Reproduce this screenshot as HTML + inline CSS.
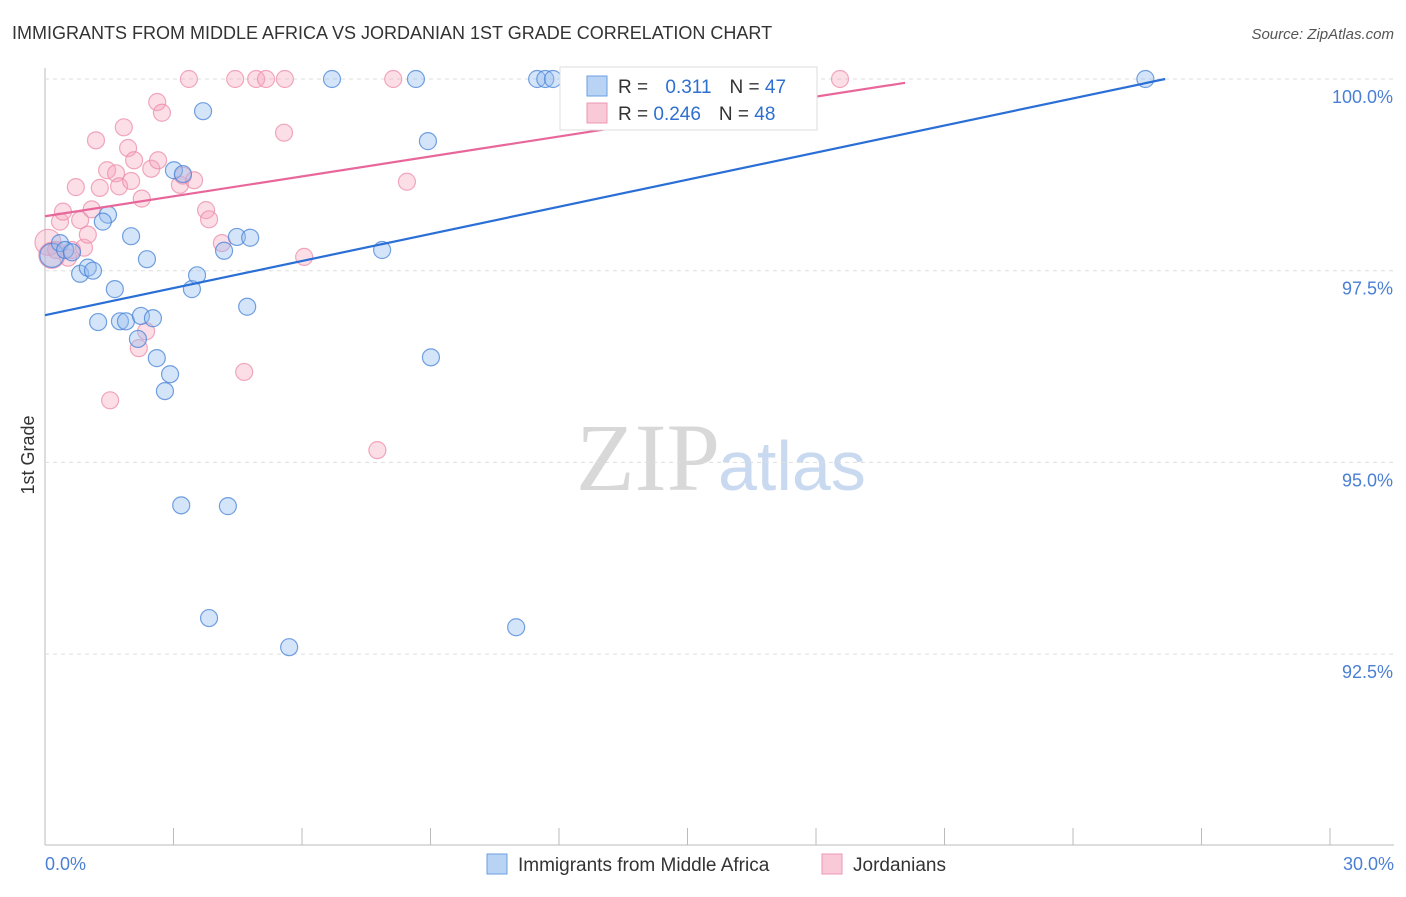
<!DOCTYPE html>
<html><head><meta charset="utf-8"><style>
body{margin:0;background:#fff;font-family:"Liberation Sans",sans-serif;}
</style></head><body>
<svg id="c" width="1406" height="892" xmlns="http://www.w3.org/2000/svg">
<text x="12" y="39" font-size="18" fill="#333">IMMIGRANTS FROM MIDDLE AFRICA VS JORDANIAN 1ST GRADE CORRELATION CHART</text>
<text x="1394" y="39" font-size="15" fill="#555" font-style="italic" text-anchor="end">Source: ZipAtlas.com</text>
<text x="720" y="490" font-size="96" fill="#d8d8d8" font-family="Liberation Serif,serif" text-anchor="end">ZIP</text>
<text x="718" y="490" font-size="70" fill="#c9d9ef">atlas</text>
<text x="34" y="455" font-size="18" fill="#333" text-anchor="middle" transform="rotate(-90 34 455)">1st Grade</text>
<g id="grid"></g><g id="pts"></g><g id="lines"></g>
<g>
<rect x="560" y="67" width="257" height="63" fill="#fff" stroke="#ddd"/>
<rect x="587" y="76" width="20" height="20" fill="#b8d3f4" stroke="#6a9fe0"/>
<rect x="587" y="103" width="20" height="20" fill="#f9c9d7" stroke="#ec98b2"/>
<text x="618" y="93" font-size="19" fill="#333">R = <tspan fill="#2f6fd0" dx="12">0.311</tspan><tspan dx="18" fill="#333">N = </tspan><tspan fill="#2f6fd0">47</tspan></text>
<text x="618" y="120" font-size="19" fill="#333">R = <tspan fill="#2f6fd0">0.246</tspan><tspan dx="18" fill="#333">N = </tspan><tspan fill="#2f6fd0">48</tspan></text>
</g>
<g>
<rect x="487" y="854" width="20" height="20" fill="#b8d3f4" stroke="#6a9fe0"/>
<text x="518" y="871" font-size="19" fill="#333">Immigrants from Middle Africa</text>
<rect x="822" y="854" width="20" height="20" fill="#f9c9d7" stroke="#ec98b2"/>
<text x="853" y="871" font-size="19" fill="#333">Jordanians</text>
</g>
</svg>
<script>
const blueX=[0.16,0.35,0.47,0.63,0.82,1.00,1.12,1.24,1.47,1.35,1.63,1.75,1.89,2.01,2.17,2.24,2.38,2.52,2.61,2.80,2.92,3.01,3.22,3.18,3.43,3.55,3.69,3.83,4.18,4.27,4.48,4.79,4.72,5.70,6.70,7.87,8.66,8.94,9.01,11.00,11.49,11.68,11.86,14.55,25.69];
const blueY=[97.70,97.86,97.77,97.74,97.46,97.54,97.50,96.83,98.23,98.14,97.26,96.84,96.84,97.95,96.61,96.91,97.65,96.88,96.36,95.93,96.15,98.81,98.76,94.44,97.26,97.44,99.58,92.97,97.76,94.43,97.94,97.93,97.03,92.59,100,97.77,100,99.19,96.37,92.85,100,100,100,100,100];
const pinkX=[0.07,0.16,0.26,0.35,0.42,0.54,0.63,0.72,0.82,0.91,1.00,1.09,1.19,1.28,1.45,1.52,1.66,1.73,1.84,1.94,2.01,2.08,2.19,2.26,2.36,2.48,2.62,2.64,2.73,3.15,3.22,3.36,3.48,3.76,3.83,4.13,4.44,4.65,4.93,5.16,5.58,5.60,6.05,7.76,8.13,8.45,18.56];
const pinkY=[97.87,97.70,97.77,98.14,98.27,97.67,97.77,98.59,98.16,97.80,97.97,98.30,99.20,98.58,98.81,95.81,98.77,98.60,99.37,99.10,98.67,98.94,96.49,98.44,96.71,98.83,99.70,98.94,99.56,98.62,98.74,100,98.68,98.29,98.17,97.86,100,96.18,100,100,99.30,100,97.68,95.16,100,98.66,100];
const blueTrend=[0,96.92,26.15,100];
const pinkTrend=[0,98.21,20.08,99.95];
const yTicks=[100,97.5,95,92.5];
const yTickLabels=["100.0%","97.5%","95.0%","92.5%"];
const xTicks=[0,3,6,9,12,15,18,21,24,27,30];
const X=v=>45+v/30*1285, Y=v=>79+(100-v)/2.5*191.7;
const NS="http://www.w3.org/2000/svg";
function mk(p,t,a){const e=document.createElementNS(NS,t);for(const k in a)e.setAttribute(k,a[k]);p.appendChild(e);return e;}
const g=document.getElementById('grid'),P=document.getElementById('pts'),L=document.getElementById('lines');
let ax=mk(g,'line',{x1:45,y1:68,x2:45,y2:845,stroke:'#bbb'});


let bx=mk(g,'line',{x1:45,y1:845,x2:1394,y2:845,stroke:'#bbb'});


yTicks.forEach((v,i)=>{
 let l=mk(g,'line',{x1:45,x2:1394,y1:Y(v),y2:Y(v),stroke:'#ddd','stroke-dasharray':'4,4'});
 
 
 let t=mk(g,'text',{x:1393,y:Y(v)+24,'font-size':18,fill:'#4a7fd4','text-anchor':'end'});t.textContent=yTickLabels[i];
 
 
});
xTicks.forEach(v=>{
 let l=mk(g,'line',{x1:X(v),x2:X(v),y1:828,y2:845,stroke:'#bbb'});
 
 
});
let t0=mk(g,'text',{x:45,y:870,'font-size':18,fill:'#4a7fd4'});t0.textContent='0.0%';


let t1=mk(g,'text',{x:1394,y:870,'font-size':18,fill:'#4a7fd4','text-anchor':'end'});t1.textContent='30.0%';


pinkX.forEach((x,i)=>{
 let c=mk(P,'circle',{cx:X(x),cy:Y(pinkY[i]),r:i<2?13:8.5,fill:'rgba(245,160,185,0.35)',stroke:'rgba(236,140,170,0.75)','stroke-width':1.2});
 
 
});
blueX.forEach((x,i)=>{
 let c=mk(P,'circle',{cx:X(x),cy:Y(blueY[i]),r:i<1?12:8.5,fill:'rgba(150,190,240,0.4)',stroke:'rgba(70,130,215,0.75)','stroke-width':1.2});
 
 
});
let bl=mk(L,'line',{x1:X(blueTrend[0]),y1:Y(blueTrend[1]),x2:X(blueTrend[2]),y2:Y(blueTrend[3]),stroke:'#2a6fd6','stroke-width':2.2});


let pl=mk(L,'line',{x1:X(pinkTrend[0]),y1:Y(pinkTrend[1]),x2:X(pinkTrend[2]),y2:Y(pinkTrend[3]),stroke:'#e8679a','stroke-width':2.2});


</script>
</body></html>
